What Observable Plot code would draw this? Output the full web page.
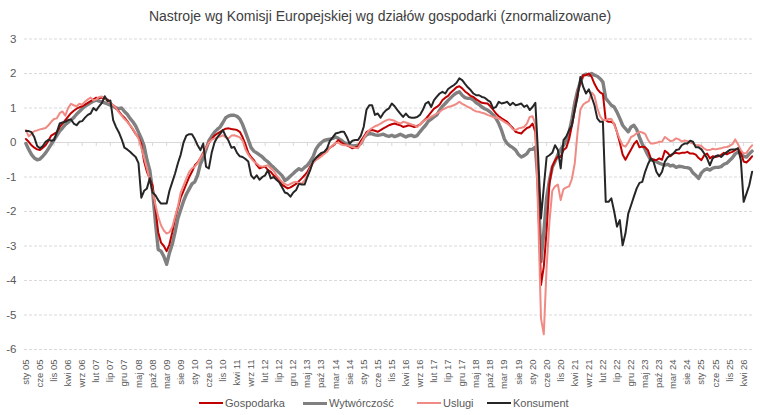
<!DOCTYPE html>
<html><head><meta charset="utf-8">
<script src="https://cdn.jsdelivr.net/npm/d3@7"></script>
<script src="https://cdn.jsdelivr.net/npm/@observablehq/plot@0.6"></script>
<style>
body{margin:0;background:#fff;font-family:"Liberation Sans",Arial,sans-serif;}
#wrap{width:760px;height:415px;position:relative;overflow:hidden;background:#fff}
#title{height:30px;line-height:32px;text-align:center;font-size:14px;color:#404040;}
#chart{height:362px}
#legend{position:relative;height:23px;font-size:11px;color:#595959}
.item{position:absolute;top:4px;height:14px;display:flex;align-items:center;white-space:nowrap}
.sw{display:inline-block;width:24px;margin-right:2px}
</style></head><body>
<div id="wrap">
<div id="title">Nastroje wg Komisji Europejskiej wg działów gospodarki (znormalizowane)</div>
<div id="chart"></div>
<div id="legend"></div>
</div>
<script>
// Month names (Polish) and start of the monthly series (Jan 2005)
const monthNames = ["sty","lut","mar","kwi","maj","cze","lip","sie","wrz","paź","lis","gru"];
const startYear = 2005;
const yTicks = [-6,-5,-4,-3,-2,-1,0,1,2,3];

const seriesNames = ["Gospodarka","Wytwórczość","Uslugi","Konsument"];
const seriesColors = ["#C00000","#808080","#F08A84","#262626"];
const seriesWidths = [2,3.4,2,2];

const gospodarka = [
 0.10,0.02,-0.08,-0.15,-0.20,-0.22,-0.15,-0.08,0.05,0.20,0.25,0.30, // 2005
 0.45,0.55,0.65,0.75,0.85,0.92,0.98,1.02,1.05,1.10,1.15,1.20, // 2006
 1.25,1.30,1.28,1.30,1.26,1.25,1.15,1.08,1.00,0.90,0.80,0.72, // 2007
 0.62,0.50,0.38,0.25,0.15,-0.05,-0.55,-0.85,-1.05,-1.25,-1.90,-2.60, // 2008
 -2.90,-3.00,-3.15,-2.95,-2.60,-2.20,-1.90,-1.60,-1.40,-1.20,-1.00,-0.85, // 2009
 -0.66,-0.58,-0.45,-0.30,-0.15,0.00,0.10,0.20,0.26,0.31,0.36,0.40, // 2010
 0.41,0.39,0.38,0.36,0.31,0.15,-0.05,-0.30,-0.42,-0.51,-0.65,-0.75, // 2011
 -0.72,-0.70,-0.80,-0.85,-0.95,-1.00,-1.10,-1.22,-1.28,-1.33,-1.30,-1.25, // 2012
 -1.20,-1.12,-1.04,-0.95,-0.85,-0.70,-0.58,-0.48,-0.42,-0.37,-0.30,-0.22, // 2013
 -0.15,-0.10,-0.02,0.07,0.00,-0.05,-0.08,-0.12,-0.17,-0.14,-0.12,0.05, // 2014
 0.15,0.30,0.34,0.36,0.34,0.31,0.36,0.41,0.45,0.50,0.53,0.55, // 2015
 0.52,0.50,0.45,0.47,0.50,0.48,0.45,0.48,0.52,0.60,0.68,0.78, // 2016
 0.88,0.98,1.03,1.10,1.23,1.30,1.35,1.45,1.52,1.60,1.63,1.57, // 2017
 1.48,1.42,1.35,1.32,1.25,1.20,1.15,1.14,1.13,1.05,0.95,0.84, // 2018
 0.76,0.70,0.65,0.60,0.50,0.42,0.31,0.28,0.26,0.35,0.42,0.45, // 2019
 0.55,0.30,-1.50,-4.13,-3.60,-2.55,-1.19,-0.70,-0.52,-0.40,-0.42,-0.22, // 2020
 -0.15,0.10,0.50,0.95,1.42,1.75,1.95,1.95,2.00,1.90,1.70,1.55, // 2021
 1.45,1.40,0.65,0.60,0.60,0.55,0.30,0.00,-0.35,-0.50,-0.35,-0.20, // 2022
 -0.05,0.05,-0.14,-0.12,-0.14,-0.22,-0.46,-0.51,-0.51,-0.46,-0.50,-0.24, // 2023
 -0.30,-0.40,-0.32,-0.30,-0.32,-0.30,-0.30,-0.27,-0.32,-0.32,-0.35,-0.45, // 2024
 -0.51,-0.37,-0.32,-0.46,-0.40,-0.42,-0.40,-0.36,-0.30,-0.34,-0.30,-0.27, // 2025
 -0.22,-0.17,-0.30,-0.55,-0.58,-0.50,-0.40 // 2026
];

const wytworczosc = [
 -0.03,-0.20,-0.35,-0.45,-0.50,-0.48,-0.40,-0.30,-0.18,-0.05,0.08,0.20, // 2005
 0.33,0.42,0.52,0.58,0.65,0.72,0.82,0.90,0.98,1.05,1.10,1.15, // 2006
 1.20,1.23,1.20,1.18,1.15,1.12,1.08,1.05,1.00,0.98,1.00,0.90, // 2007
 0.82,0.70,0.60,0.48,0.30,0.12,-0.10,-0.50,-0.80,-1.40,-2.30,-3.10, // 2008
 -3.15,-3.30,-3.53,-3.20,-2.95,-2.60,-2.20,-1.95,-1.70,-1.50,-1.35,-1.20, // 2009
 -1.14,-0.95,-0.62,-0.45,-0.20,0.05,0.18,0.30,0.38,0.45,0.58,0.72, // 2010
 0.77,0.79,0.79,0.76,0.68,0.52,0.30,0.08,-0.15,-0.25,-0.30,-0.36, // 2011
 -0.42,-0.50,-0.56,-0.65,-0.72,-0.80,-0.88,-0.96,-1.10,-1.05,-0.97,-0.90, // 2012
 -0.82,-0.76,-0.80,-0.72,-0.66,-0.55,-0.42,-0.20,-0.08,0.00,0.06,0.08, // 2013
 0.10,0.12,0.16,0.12,0.07,0.00,-0.03,-0.07,-0.10,-0.09,-0.08,-0.03, // 2014
 0.14,0.22,0.26,0.25,0.22,0.21,0.22,0.24,0.20,0.18,0.21,0.17, // 2015
 0.20,0.24,0.20,0.16,0.20,0.21,0.17,0.20,0.31,0.41,0.50,0.62, // 2016
 0.68,0.74,0.80,0.94,1.05,1.13,1.22,1.30,1.38,1.44,1.47,1.37, // 2017
 1.30,1.28,1.28,1.23,1.15,1.10,1.03,0.98,0.94,0.88,0.80,0.70, // 2018
 0.55,0.35,0.10,-0.03,-0.10,-0.15,-0.22,-0.35,-0.42,-0.38,-0.32,-0.20, // 2019
 -0.20,-0.13,-1.20,-3.45,-2.60,-1.60,-1.10,-0.72,-0.55,-0.35,-0.20,-0.08, // 2020
 0.05,0.30,0.68,1.15,1.50,1.75,1.95,1.98,1.95,2.00,1.95,1.92, // 2021
 1.85,1.75,1.28,1.18,1.08,1.03,0.88,0.70,0.50,0.40,0.31,0.45, // 2022
 0.50,0.38,0.15,-0.05,-0.20,-0.37,-0.51,-0.50,-0.56,-0.60,-0.63,-0.66, // 2023
 -0.63,-0.68,-0.66,-0.72,-0.69,-0.70,-0.72,-0.73,-0.76,-0.88,-0.95,-1.04, // 2024
 -0.88,-0.80,-0.76,-0.80,-0.74,-0.72,-0.72,-0.70,-0.63,-0.60,-0.52,-0.44, // 2025
 -0.33,-0.28,-0.33,-0.40,-0.42,-0.33,-0.25 // 2026
];

const uslugi = [
 0.36,0.18,0.25,0.33,0.35,0.38,0.40,0.42,0.50,0.60,0.68,0.70, // 2005
 0.85,0.90,0.78,1.00,1.12,1.08,1.05,1.12,1.10,1.18,1.25,1.30, // 2006
 1.22,1.25,1.32,1.33,1.28,1.20,1.15,1.08,1.00,0.88,0.78,0.68, // 2007
 0.60,0.50,0.40,0.25,0.12,-0.15,-0.45,-0.75,-1.10,-1.40,-1.80,-2.15, // 2008
 -2.40,-2.55,-2.64,-2.60,-2.45,-2.15,-1.85,-1.45,-1.25,-1.05,-0.85,-0.75, // 2009
 -0.70,-0.60,-0.45,-0.32,-0.15,0.00,0.08,0.12,0.14,0.17,0.21,0.15, // 2010
 0.12,0.20,0.21,0.18,0.15,0.05,-0.20,-0.35,-0.46,-0.55,-0.61,-0.68, // 2011
 -0.70,-0.68,-0.66,-0.75,-0.82,-0.95,-1.05,-1.14,-1.20,-1.24,-1.20,-1.16, // 2012
 -1.14,-1.17,-1.19,-1.10,-0.95,-0.75,-0.60,-0.51,-0.46,-0.40,-0.33,-0.27, // 2013
 -0.15,-0.08,-0.02,0.00,-0.06,-0.08,-0.08,-0.10,-0.13,-0.15,-0.17,-0.03, // 2014
 0.12,0.25,0.36,0.42,0.47,0.50,0.55,0.60,0.64,0.67,0.65,0.63, // 2015
 0.58,0.55,0.60,0.58,0.55,0.52,0.50,0.45,0.52,0.60,0.66,0.70, // 2016
 0.75,0.79,0.84,0.89,0.95,0.99,1.03,1.05,1.08,1.12,1.18,1.12, // 2017
 1.08,1.03,1.00,0.94,0.90,0.89,0.86,0.84,0.80,0.77,0.74,0.72, // 2018
 0.70,0.65,0.60,0.55,0.48,0.38,0.36,0.41,0.43,0.45,0.55,0.74, // 2019
 0.76,0.55,-2.10,-5.10,-5.56,-3.60,-2.30,-1.40,-1.27,-1.22,-1.67,-1.35, // 2020
 -1.30,-1.27,-1.05,-0.60,0.30,0.95,1.10,1.16,1.20,1.45,1.35,1.00, // 2021
 0.76,0.65,0.65,0.68,0.68,0.52,0.30,0.10,-0.08,-0.12,0.00,0.16, // 2022
 0.20,0.27,0.31,0.29,0.25,0.08,-0.03,-0.03,-0.01,0.02,0.02,0.16, // 2023
 0.10,0.04,0.06,0.12,0.09,0.03,0.06,0.04,0.00,-0.03,-0.08,-0.08, // 2024
 -0.10,-0.18,-0.22,-0.22,-0.18,-0.20,-0.18,-0.17,-0.14,-0.13,-0.10,-0.05, // 2025
 0.09,-0.05,-0.22,-0.32,-0.30,-0.18,-0.08 // 2026
];

const konsument = [
 0.33,0.33,0.30,0.15,-0.10,-0.17,-0.10,0.02,0.08,0.05,0.07,0.30, // 2005
 0.55,0.58,0.60,0.65,0.67,0.55,0.50,0.60,0.62,0.72,0.80,0.84, // 2006
 1.00,0.93,1.05,1.15,1.34,1.20,1.22,0.65,0.45,0.30,0.10,-0.15, // 2007
 -0.20,-0.27,-0.35,-0.42,-0.60,-1.60,-1.40,-1.33,-1.04,-1.45,-1.53,-1.67, // 2008
 -1.77,-1.77,-1.77,-1.40,-1.15,-0.90,-0.60,-0.35,0.00,0.20,0.24,0.24, // 2009
 0.10,-0.08,-0.22,-0.03,-0.70,-0.75,-0.30,0.00,0.15,0.25,0.36,0.18, // 2010
 0.05,-0.15,-0.13,-0.30,-0.40,-0.42,-0.48,-0.55,-0.95,-1.05,-0.95,-1.08, // 2011
 -1.00,-0.95,-0.80,-1.04,-1.00,-1.08,-1.15,-1.30,-1.45,-1.48,-1.57,-1.45, // 2012
 -1.38,-1.20,-1.22,-1.22,-1.00,-0.80,-0.55,-0.45,-0.37,-0.30,-0.27,-0.17, // 2013
 0.05,0.15,0.26,0.28,0.31,0.31,0.16,-0.03,0.05,0.07,0.07,0.20, // 2014
 0.45,0.95,1.08,1.08,0.80,0.84,0.72,0.85,0.94,0.99,1.13,1.05, // 2015
 0.94,0.84,0.74,0.84,0.74,0.72,0.72,0.74,0.80,0.94,1.13,1.18, // 2016
 1.03,1.23,1.33,1.42,1.47,1.42,1.55,1.61,1.66,1.73,1.86,1.81, // 2017
 1.70,1.60,1.52,1.42,1.37,1.37,1.32,1.30,1.23,1.18,0.99,1.03, // 2018
 1.18,1.13,1.15,1.18,1.08,1.15,1.08,1.10,1.13,1.03,1.08,0.94, // 2019
 1.03,1.15,-0.40,-2.20,-1.29,-0.42,-0.37,-0.30,-0.08,-0.22,-0.75,0.07, // 2020
 0.18,0.36,0.50,0.94,1.32,1.90,1.61,1.42,1.54,1.32,1.08,0.70, // 2021
 0.60,0.60,-1.72,-1.72,-1.62,-2.00,-2.44,-2.25,-2.98,-2.64,-2.06,-1.82, // 2022
 -1.57,-1.33,-1.17,-1.14,-0.85,-0.63,-0.46,-0.56,-0.85,-0.98,-0.85,-0.56, // 2023
 -0.43,-0.37,-0.32,-0.22,-0.20,-0.08,-0.03,-0.03,0.05,0.02,-0.14,-0.14, // 2024
 -0.20,-0.32,-0.46,-0.66,-0.46,-0.40,-0.37,-0.42,-0.34,-0.28,-0.22,-0.20, // 2025
 -0.20,-0.17,-0.51,-1.72,-1.48,-1.24,-0.85 // 2026
];

const seriesValues = [gospodarka, wytworczosc, uslugi, konsument];
const N = gospodarka.length;
const labelEvery = 5;

const monthLabel = i => monthNames[i % 12] + " " + String((startYear + Math.floor(i / 12)) % 100).padStart(2, "0");
const tickIdx = d3.range(0, N, labelEvery);

const rows = [];
seriesValues.forEach((arr, s) => arr.forEach((v, i) => rows.push({i, v, s: seriesNames[s]})));

const drawOrder = [1, 0, 2, 3];
const font = "Liberation Sans, Arial, sans-serif";

const chart = Plot.plot({
  width: 760, height: 362,
  marginTop: 8.5, marginBottom: 43, marginLeft: 24, marginRight: 7,
  x: {type: "linear", domain: [-0.5, N - 0.5], label: null},
  y: {domain: [-6, 3], label: null},
  style: {fontFamily: font, background: "#fff", overflow: "visible"},
  marks: [
    Plot.gridY(yTicks.filter(d => d !== 0), {stroke: "#d9d9d9", strokeOpacity: 1, strokeDasharray: "3,2"}),
    Plot.ruleY([0], {stroke: "#d9d9d9", strokeWidth: 1}),
    Plot.ruleX(tickIdx, {x: d => d, y1: 0, y2: 0, insetBottom: -4, stroke: "#d9d9d9"}),
    ...drawOrder.map(s => Plot.lineY(rows.filter(r => r.s === seriesNames[s]), {
      x: "i", y: "v", stroke: seriesColors[s], strokeWidth: seriesWidths[s],
      strokeLinejoin: "round", strokeLinecap: "round"
    })),
    Plot.axisY(yTicks, {label: null, tickSize: 0, tickPadding: 8, fontSize: 11.5, fill: "#595959", tickFormat: d => String(d)}),
    Plot.axisX(tickIdx, {label: null, tickSize: 0, tickPadding: 10, tickRotate: -90, fontSize: 9.5, fill: "#595959", tickFormat: monthLabel})
  ]
});
document.getElementById("chart").appendChild(chart);

// Legend
const legendX = [199, 303, 417, 487];
const legend = document.getElementById("legend");
seriesNames.forEach((name, s) => {
  const it = document.createElement("div");
  it.className = "item";
  it.style.left = legendX[s] + "px";
  const sw = document.createElement("span");
  sw.className = "sw";
  sw.style.height = (s === 1 ? 3 : 2) + "px";
  sw.style.background = seriesColors[s];
  it.appendChild(sw);
  const t = document.createElement("span");
  t.textContent = name;
  it.appendChild(t);
  legend.appendChild(it);
});
</script>
</body></html>
